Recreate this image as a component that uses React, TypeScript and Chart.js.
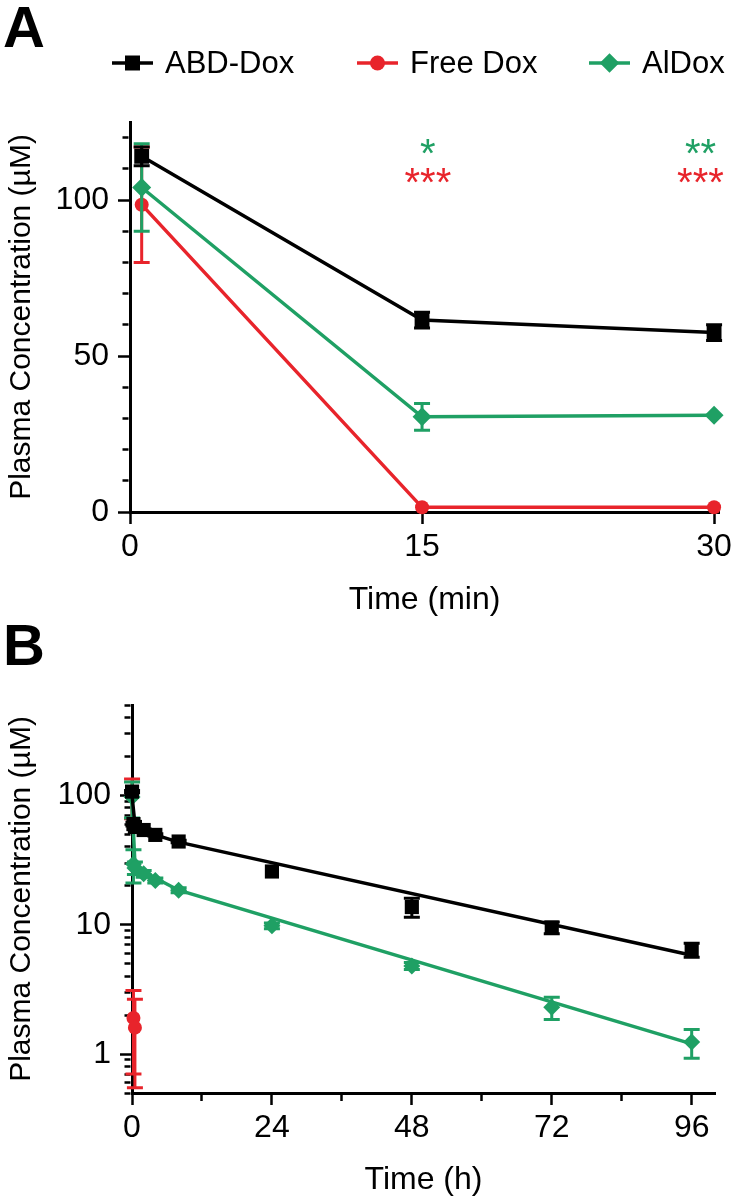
import React, { useEffect, useRef } from 'react';
import { Chart, registerables } from 'chart.js';

Chart.register(...registerables);

// ---------- Panel A (time in min) ----------
const timesA = [0.6, 15, 30];
const abdA = [114, 61.5, 57.5];
const abdErrA = [3, 2.5, 2.5];
const alA = [104, 30.5, 31];
const alErrA = [14, 4.3, 0];
const freeA = [98.5, 1.5, 1.5];
const freeErrA = [18.5, 0, 0];
const yTicksA = [0, 10, 20, 30, 40, 50, 60, 70, 80, 90, 100, 110, 120];
const yLabelsA = [0, 50, 100];
const xTicksA = [0, 15, 30];
const sigXA = [15.3, 29.3];
const sigAlA = ['*', '**'];
const sigFreeA = ['***', '***'];
const sigYAl = 118;
const sigYFree = 108.5;

// ---------- Panel B (time in h) ----------
const timesB = [0.01, 0.25, 0.5, 2, 4, 8, 24, 48, 72, 96];
const abdB = [107, 60, 57, 54, 49.5, 44, 25.8, 13.7, 9.5, 6.4];
const abdErrB = [2, 2, 2, 1, 1, 1, 0, 2.3, 1.0, 0.8];
const alB = [97, 29.5, 27.5, 24.8, 22, 18.5, 9.8, 4.8, 2.3, 1.24];
const alErrB = [30, 8.5, 3, 1.5, 1, 0.8, 0.5, 0.3, 0.45, 0.31];
const freeTimesB = [0.01, 0.25, 0.5];
const freeB = [100, 1.9, 1.6];
const freeErrB = [34, 1.2, 1.05];
const fitTimesAbdB = [0, 0.5, 2, 4, 8, 96];
const fitAbdB = [100, 60, 54, 49.5, 43.5, 5.8];
const fitTimesAlB = [0, 0.5, 2, 4, 8, 96];
const fitAlB = [90, 30, 26, 23, 18.5, 1.2];
const yTicksB = [0.5, 0.6, 0.7, 0.8, 0.9, 1, 2, 3, 4, 5, 6, 7, 8, 9, 10, 20, 30, 40, 50, 60, 70, 80, 90, 100, 200, 300, 400, 500];
const yLabelsB = [1, 10, 100];
const xTicksB = [0, 12, 24, 36, 48, 60, 72, 84, 96];
const xLabelsB = [0, 24, 48, 72, 96];

const FONT = "'Liberation Sans', Arial, Helvetica, sans-serif";
const BLACK = '#000000';
const RED = '#e8242b';
const GREEN = '#1fa064';

const pts = (xs: number[], ys: number[]) => xs.map((x, i) => ({ x, y: ys[i] }));

const errorBarsPlugin = {
  id: 'errorBars',
  beforeDatasetDraw(chart: any, args: any) {
    const ds: any = chart.data.datasets[args.index];
    const errs: number[] | undefined = ds.errors;
    if (!errs) return;
    const meta = args.meta;
    const ys = chart.scales[meta.yAxisID];
    const ctx = chart.ctx;
    ctx.save();
    ctx.strokeStyle = ds.borderColor;
    ctx.lineWidth = 3;
    meta.data.forEach((el: any, i: number) => {
      const e = errs[i];
      if (!e) return;
      const v = ds.data[i].y;
      const x = el.x;
      const y1 = ys.getPixelForValue(v + e);
      const y2 = ys.getPixelForValue(v - e);
      const cap = 8;
      ctx.beginPath();
      ctx.moveTo(x, y1);
      ctx.lineTo(x, y2);
      ctx.moveTo(x - cap, y1);
      ctx.lineTo(x + cap, y1);
      ctx.moveTo(x - cap, y2);
      ctx.lineTo(x + cap, y2);
      ctx.stroke();
    });
    ctx.restore();
  },
};

function drawMarker(ctx: CanvasRenderingContext2D, style: string, x: number, y: number, r: number, color: string) {
  ctx.fillStyle = color;
  ctx.beginPath();
  if (style === 'rect') {
    ctx.rect(x - r, y - r, 2 * r, 2 * r);
  } else if (style === 'rectRot') {
    ctx.moveTo(x, y - r * 1.3);
    ctx.lineTo(x + r * 1.3, y);
    ctx.lineTo(x, y + r * 1.3);
    ctx.lineTo(x - r * 1.3, y);
    ctx.closePath();
  } else {
    ctx.arc(x, y, r, 0, Math.PI * 2);
  }
  ctx.fill();
}

const panelPlugin = {
  id: 'panel',
  afterDraw(chart: any, _a: any, opts: any) {
    const ctx = chart.ctx;
    ctx.save();
    if (opts.letter) {
      ctx.fillStyle = BLACK;
      ctx.font = `bold 58px ${FONT}`;
      ctx.textBaseline = 'alphabetic';
      ctx.textAlign = 'left';
      ctx.fillText(opts.letter, 3, opts.letterY);
    }
    if (opts.legend) {
      const lg = opts.legend;
      ctx.font = `31px ${FONT}`;
      ctx.textBaseline = 'middle';
      ctx.textAlign = 'left';
      lg.order.forEach((di: number, k: number) => {
        const ds = chart.data.datasets[di];
        const x0 = lg.starts[k];
        ctx.strokeStyle = ds.borderColor;
        ctx.lineWidth = 3.5;
        ctx.beginPath();
        ctx.moveTo(x0, lg.y);
        ctx.lineTo(x0 + 41, lg.y);
        ctx.stroke();
        drawMarker(ctx, ds.pointStyle, x0 + 20.5, lg.y, 7.5, ds.borderColor);
        ctx.fillStyle = BLACK;
        ctx.fillText(ds.label, x0 + 53, lg.y + 1);
      });
    }
    if (opts.sig) {
      const xs = chart.scales.x;
      const ys = chart.scales.y;
      ctx.font = `40px ${FONT}`;
      ctx.textAlign = 'center';
      ctx.textBaseline = 'alphabetic';
      ctx.fillStyle = GREEN;
      sigAlA.forEach((t, i) => ctx.fillText(t, xs.getPixelForValue(sigXA[i]), ys.getPixelForValue(sigYAl) + 23));
      ctx.fillStyle = RED;
      sigFreeA.forEach((t, i) => ctx.fillText(t, xs.getPixelForValue(sigXA[i]), ys.getPixelForValue(sigYFree) + 23));
    }
    ctx.restore();
  },
};

const tickFont = { family: FONT, size: 32 };

function yAxis(type: string, min: number, max: number, ticks: number[], labels: number[], width: number) {
  return {
    type,
    min,
    max,
    afterBuildTicks: (s: any) => {
      s.ticks = ticks.map((v) => ({ value: v }));
    },
    afterFit: (s: any) => {
      s.width = width;
    },
    border: { display: true, color: BLACK, width: 3 },
    grid: {
      drawOnChartArea: false,
      drawTicks: true,
      tickLength: 12,
      tickWidth: 2.5,
      tickColor: BLACK,
      tickBorderDash: (c: any) => (c.tick && !labels.includes(c.tick.value) ? [0, 4.5, 6, 200] : []),
    },
    ticks: {
      autoSkip: false,
      color: BLACK,
      font: tickFont,
      padding: 9,
      callback: (v: any) => (labels.includes(Number(v)) ? String(v) : ''),
    },
    title: {
      display: true,
      text: 'Plasma Concentration (µM)',
      color: BLACK,
      font: { family: FONT, size: 30 },
      padding: { top: 4, bottom: 0 },
    },
  };
}

function xAxis(min: number, max: number, ticks: number[], labels: number[], height: number, title: string) {
  return {
    type: 'linear',
    min,
    max,
    afterBuildTicks: (s: any) => {
      s.ticks = ticks.map((v) => ({ value: v }));
    },
    afterFit: (s: any) => {
      s.height = height;
    },
    border: { display: true, color: BLACK, width: 3 },
    grid: {
      drawOnChartArea: false,
      drawTicks: true,
      tickLength: 12,
      tickWidth: 2.5,
      tickColor: BLACK,
      tickBorderDash: (c: any) => (c.tick && !labels.includes(c.tick.value) ? [6, 200] : []),
    },
    ticks: {
      autoSkip: false,
      maxRotation: 0,
      color: BLACK,
      font: tickFont,
      padding: 4,
      callback: (v: any) => (labels.includes(Number(v)) ? String(v) : ''),
    },
    title: {
      display: true,
      text: title,
      color: BLACK,
      font: { family: FONT, size: 32 },
      padding: { top: 2, bottom: 1 },
    },
  };
}

function series(label: string, data: any[], color: string, style: string, radius: number, errors?: number[], showLine = true) {
  return {
    label,
    data,
    errors,
    borderColor: color,
    backgroundColor: color,
    pointBackgroundColor: color,
    borderWidth: 3.5,
    pointStyle: style,
    pointRadius: radius,
    pointHoverRadius: radius,
    pointBorderWidth: 0,
    showLine,
    tension: 0,
    clip: false,
  };
}

function fitLine(label: string, data: any[], color: string) {
  return {
    label,
    data,
    borderColor: color,
    backgroundColor: color,
    borderWidth: 3.5,
    pointRadius: 0,
    pointHoverRadius: 0,
    showLine: true,
    tension: 0,
    clip: false,
  };
}

export default function App() {
  const refA = useRef<HTMLCanvasElement>(null);
  const refB = useRef<HTMLCanvasElement>(null);

  useEffect(() => {
    document.body.style.margin = '0';
    const chartA = new Chart(refA.current as HTMLCanvasElement, {
      type: 'line',
      data: {
        datasets: [
          series('ABD-Dox', pts(timesA, abdA), BLACK, 'rect', 10.5, abdErrA),
          series('AlDox', pts(timesA, alA), GREEN, 'rectRot', 9.5, alErrA),
          series('Free Dox', pts(timesA, freeA), RED, 'circle', 7, freeErrA),
        ] as any,
      },
      options: {
        responsive: false,
        animation: false,
        events: [],
        layout: { padding: { top: 122, right: 14, left: 0, bottom: 0 } },
        plugins: {
          legend: { display: false },
          tooltip: { enabled: false },
          panel: {
            letter: 'A',
            letterY: 47,
            legend: { order: [0, 2, 1], starts: [112, 357, 589], y: 63 },
            sig: true,
          },
        } as any,
        scales: {
          x: xAxis(0, 30.26, xTicksA, xTicksA, 108, 'Time (min)') as any,
          y: yAxis('linear', 0, 125, yTicksA, yLabelsA, 130) as any,
        },
      },
      plugins: [errorBarsPlugin, panelPlugin],
    });

    const chartB = new Chart(refB.current as HTMLCanvasElement, {
      type: 'line',
      data: {
        datasets: [
          series('ABD-Dox', pts(timesB, abdB), BLACK, 'rect', 10, abdErrB, false),
          fitLine('ABD-Dox fit', pts(fitTimesAbdB, fitAbdB), BLACK),
          series('AlDox', pts(timesB, alB), GREEN, 'rectRot', 8.5, alErrB, false),
          fitLine('AlDox fit', pts(fitTimesAlB, fitAlB), GREEN),
          series('Free Dox', pts(freeTimesB, freeB), RED, 'circle', 7, freeErrB, false),
        ] as any,
      },
      options: {
        responsive: false,
        animation: false,
        events: [],
        layout: { padding: { top: 85, right: 21, left: 0, bottom: 0 } },
        plugins: {
          legend: { display: false },
          tooltip: { enabled: false },
          panel: { letter: 'B', letterY: 45 },
        } as any,
        scales: {
          x: xAxis(0, 100, xTicksB, xLabelsB, 107, 'Time (h)') as any,
          y: yAxis('logarithmic', 0.5, 500, yTicksB, yLabelsB, 132) as any,
        },
      },
      plugins: [errorBarsPlugin, panelPlugin],
    });

    return () => {
      chartA.destroy();
      chartB.destroy();
    };
  }, []);

  return (
    <div style={{ position: 'relative', width: 736, height: 1200, background: '#fff' }}>
      <canvas ref={refA} width={736} height={620} style={{ position: 'absolute', left: 0, top: 0 }} />
      <canvas ref={refB} width={736} height={580} style={{ position: 'absolute', left: 0, top: 620 }} />
    </div>
  );
}
